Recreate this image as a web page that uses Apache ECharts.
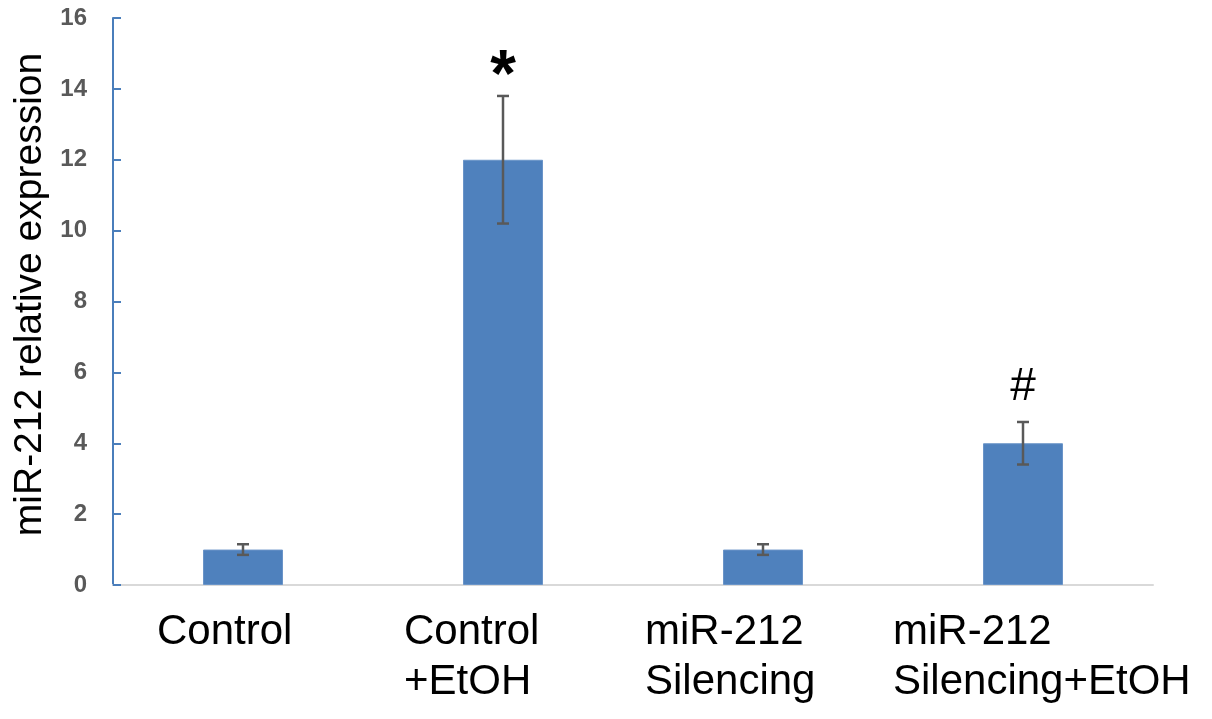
<!DOCTYPE html>
<html>
<head>
<meta charset="utf-8">
<script src="https://cdn.jsdelivr.net/npm/echarts@6/dist/echarts.min.js"></script>
<style>
  html, body { margin: 0; padding: 0; background: #fff; }
  #chart { width: 1212px; height: 719px; }
</style>
</head>
<body>
<div id="chart"></div>
<script>
// 数据
const categories = ['Control', 'Control\n+EtOH', 'miR-212\nSilencing', 'miR-212\nSilencing+EtOH'];
const values = [1, 12, 1, 4];
const errors = [0.15, 1.8, 0.15, 0.6];
const marks = ['', '*', '', '#'];

// 标签左移（让多行标签左对齐）
const labelShift = [-86, -99, -118, -130];

const chart = echarts.init(document.getElementById('chart'));

const option = {
  animation: false,
  grid: { left: 113, right: 59, top: 18, bottom: 134 },
  xAxis: {
    type: 'category',
    data: categories.map((c, i) => ({
      value: c,
      textStyle: { align: 'left', padding: [0, 0, 0, labelShift[i]] },
    })),
    axisLine: { lineStyle: { color: '#d9d9d9', width: 2 } },
    axisTick: { show: false },
    axisLabel: {
      interval: 0,
      align: 'left',
      margin: 22,
      fontFamily: 'Liberation Sans, Arial',
      fontSize: 42,
      lineHeight: 50,
      color: '#000',
    },
  },
  yAxis: {
    type: 'value',
    min: 0,
    max: 16,
    interval: 2,
    name: 'miR-212 relative expression',
    nameLocation: 'middle',
    nameGap: 57,
    nameTextStyle: {
      fontFamily: 'Liberation Sans, Arial',
      fontSize: 39,
      color: '#000',
      padding: [0, 0, 0, 14],
    },
    axisLine: { show: true, lineStyle: { color: '#4a7ebb', width: 2 } },
    axisTick: { show: true, inside: true, length: 8, lineStyle: { color: '#4a7ebb', width: 2 } },
    splitLine: { show: false },
    axisLabel: {
      margin: 26,
      fontFamily: 'Liberation Sans, Arial',
      fontWeight: 'bold',
      fontSize: 24,
      color: '#595959',
    },
  },
  series: [
    {
      type: 'bar',
      data: values,
      barWidth: 80,
      itemStyle: { color: '#4f81bd', borderColor: '#6a94c8', borderWidth: 1 },
    },
    {
      // 误差线 + 显著性标记
      type: 'custom',
      z: 5,
      data: values.map((v, i) => [i, v - errors[i], v + errors[i]]),
      renderItem: (params, api) => {
        const i = api.value(0);
        const lo = api.coord([i, api.value(1)]);
        const hi = api.coord([i, api.value(2)]);
        const x = lo[0];
        const cap = 6;
        const style = { stroke: '#595959', lineWidth: 2.5 };
        const children = [
          { type: 'line', shape: { x1: x, y1: lo[1], x2: x, y2: hi[1] }, style },
          { type: 'line', shape: { x1: x - cap, y1: lo[1], x2: x + cap, y2: lo[1] }, style },
          { type: 'line', shape: { x1: x - cap, y1: hi[1], x2: x + cap, y2: hi[1] }, style },
        ];
        const m = marks[i];
        if (m) {
          const big = m === '*';
          children.push({
            type: 'text',
            style: {
              text: m,
              x: x,
              y: hi[1] - (big ? 18 : 35),
              align: 'center',
              verticalAlign: 'middle',
              fontFamily: 'Liberation Sans, Arial',
              fontWeight: big ? 'bold' : 'normal',
              fontSize: big ? 66 : 46,
              fill: '#000',
            },
          });
        }
        return { type: 'group', children };
      },
    },
  ],
};

chart.setOption(option);
</script>
</body>
</html>
